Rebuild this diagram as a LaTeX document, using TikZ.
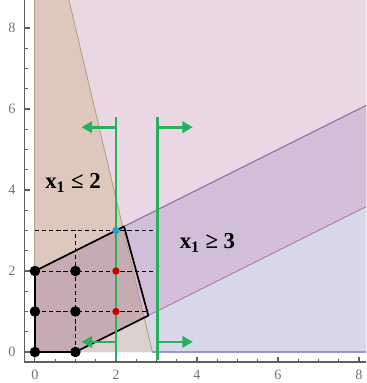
\documentclass[tikz,border=0pt]{standalone}
\usepackage{fontspec}
\setmainfont{Liberation Serif}
\usetikzlibrary{arrows.meta}

\definecolor{pinkfill}{RGB}{234,215,228}
\definecolor{bandfill}{RGB}{210,190,216}
\definecolor{bluefill}{RGB}{217,216,234}
\definecolor{tanpink}{RGB}{222,200,190}
\definecolor{tanband}{RGB}{198,172,178}
\definecolor{tanblue}{RGB}{220,207,206}
\definecolor{bandedge}{RGB}{128,100,158}
\definecolor{lowedge}{RGB}{172,122,170}
\definecolor{tanedge}{RGB}{182,158,132}
\definecolor{baseedge}{RGB}{160,150,205}
\definecolor{cutgreen}{RGB}{38,178,92}
\definecolor{axisgray}{RGB}{95,95,95}

\begin{document}
\begin{tikzpicture}[
    axisline/.style={draw=axisgray, line width=0.9pt},
    ticklbl/.style={font=\normalsize, text=black!55},
    bound/.style={draw=black, line width=1.2pt, line join=round},
    gridline/.style={draw=black, line width=0.6pt, dash pattern=on 3pt off 2pt},
    intpt/.style={circle, fill=black, inner sep=0pt, minimum size=2.6mm},
    fracpt/.style={circle, fill=#1, inner sep=0pt, minimum size=1.8mm},
    cut/.style={draw=cutgreen, line width=1.9pt},
    cutarrow/.style={cut, -{Triangle[length=2.6mm, width=2.8mm]}},
    lbl/.style={font=\fontsize{16}{18}\selectfont\bfseries}
  ]
  \useasboundingbox (-0.862,-0.765) rectangle (8.18,8.69);
  % Regions
  \fill[pinkfill] (0,0) -- (1,0) -- (8.18,3.59) -- (8.18,8.69) -- (0,8.69) -- cycle;
  \fill[bandfill] (0,2) -- (0,0) -- (1,0) -- (8.18,3.59) -- (8.18,6.09) -- cycle;
  \fill[bluefill] (1,0) -- (8.18,0) -- (8.18,3.59) -- cycle;
  \begin{scope}
    \clip (0,0) -- (2.9,0) -- (0.84,8.69) -- (0,8.69) -- cycle;
    \fill[tanpink] (0,0) rectangle (3,8.69);
    \fill[tanband] (0,2) -- (0,0) -- (1,0) -- (8.18,3.59) -- (8.18,6.09) -- cycle;
    \fill[tanblue] (1,0) -- (8.18,0) -- (8.18,3.59) -- cycle;
  \end{scope}
  \draw[bandedge, line width=0.6pt] (0,2) -- (8.18,6.09);
  \draw[lowedge, line width=0.6pt] (1,0) -- (8.18,3.59);
  \draw[tanedge, line width=0.6pt] (2.9,0) -- (0.84,8.69);
  \draw[tanedge, line width=0.8pt] (0,0) -- (0,8.69);
  \draw[baseedge, line width=0.8pt] (2.9,0) -- (8.18,0);

  % Axes
  \draw[axisline] (-0.25,8.69) -- (-0.25,-0.25) -- (8.18,-0.25);
  \foreach \v in {0,0.5,...,8} {
    \draw[axisgray, line width=0.6pt] (-0.25,\v) -- (-0.17,\v);
    \draw[axisgray, line width=0.6pt] (\v,-0.25) -- (\v,-0.17);
  }
  \foreach \v in {0,2,4,6,8} {
    \draw[axisgray, line width=0.8pt] (-0.25,\v) -- (-0.12,\v);
    \draw[axisgray, line width=0.8pt] (\v,-0.25) -- (\v,-0.12);
    \node[ticklbl] (ly\v) at (-0.57,\v) {\v};
    \node[ticklbl] (lx\v) at (\v,-0.57) {\v};
  }

  % Feasible polygon
  \coordinate (v1) at (0,0);
  \coordinate (v2) at (1,0);
  \coordinate (v3) at (2.8,0.9);
  \coordinate (v4) at (2.2,3.1);
  \coordinate (v5) at (0,2);
  \draw[bound] (v1) -- (v2) -- (v3) -- (v4) -- (v5) -- cycle;

  % Dashed grid
  \coordinate (g1) at (2.8,1);
  \coordinate (g2) at (3,2);
  \coordinate (g3a) at (0,3);
  \coordinate (g3b) at (3,3);
  \coordinate (g4) at (1,3);
  \coordinate (g5) at (3,0.9);
  \draw[gridline] (0,1) -- (g1);
  \draw[gridline] (0,2) -- (g2);
  \draw[gridline] (g3a) -- (g3b) -- (g5);
  \draw[gridline] (1,0) -- (g4);

  % Cuts x1 <= 2 and x1 >= 3
  \coordinate (c2lo) at (2,-0.2);
  \coordinate (c2hi) at (2,5.8);
  \coordinate (c3lo) at (3.02,-0.2);
  \coordinate (c3hi) at (3.02,5.8);
  \draw[cut] (c2lo) -- (c2hi);
  \draw[cut] (c3lo) -- (c3hi);
  \coordinate (aLt) at (1.15,5.55);
  \coordinate (aRt) at (3.9,5.55);
  \coordinate (aLb) at (1.15,0.25);
  \coordinate (aRb) at (3.9,0.25);
  \draw[cutarrow] (2,5.55) -- (aLt);
  \draw[cutarrow] (3.02,5.55) -- (aRt);
  \draw[cutarrow] (2,0.25) -- (aLb);
  \draw[cutarrow] (3.02,0.25) -- (aRb);

  % Integer points
  \foreach \i/\j in {0/0,1/0,0/1,1/1,0/2,1/2} {
    \node[intpt] (p\i\j) at (\i,\j) {};
  }
  \node[fracpt=red!80!black] (q21) at (2,1) {};
  \node[fracpt=red!80!black] (q22) at (2,2) {};
  \node[fracpt=cyan!70!teal] (q23) at (2,3) {};

  % Labels
  \node[lbl] (left) at (0.94,4.17) {x\textsubscript{1} ≤ 2};
  \node[lbl] (right) at (4.26,2.69) {x\textsubscript{1} ≥ 3};
\end{tikzpicture}
\end{document}
